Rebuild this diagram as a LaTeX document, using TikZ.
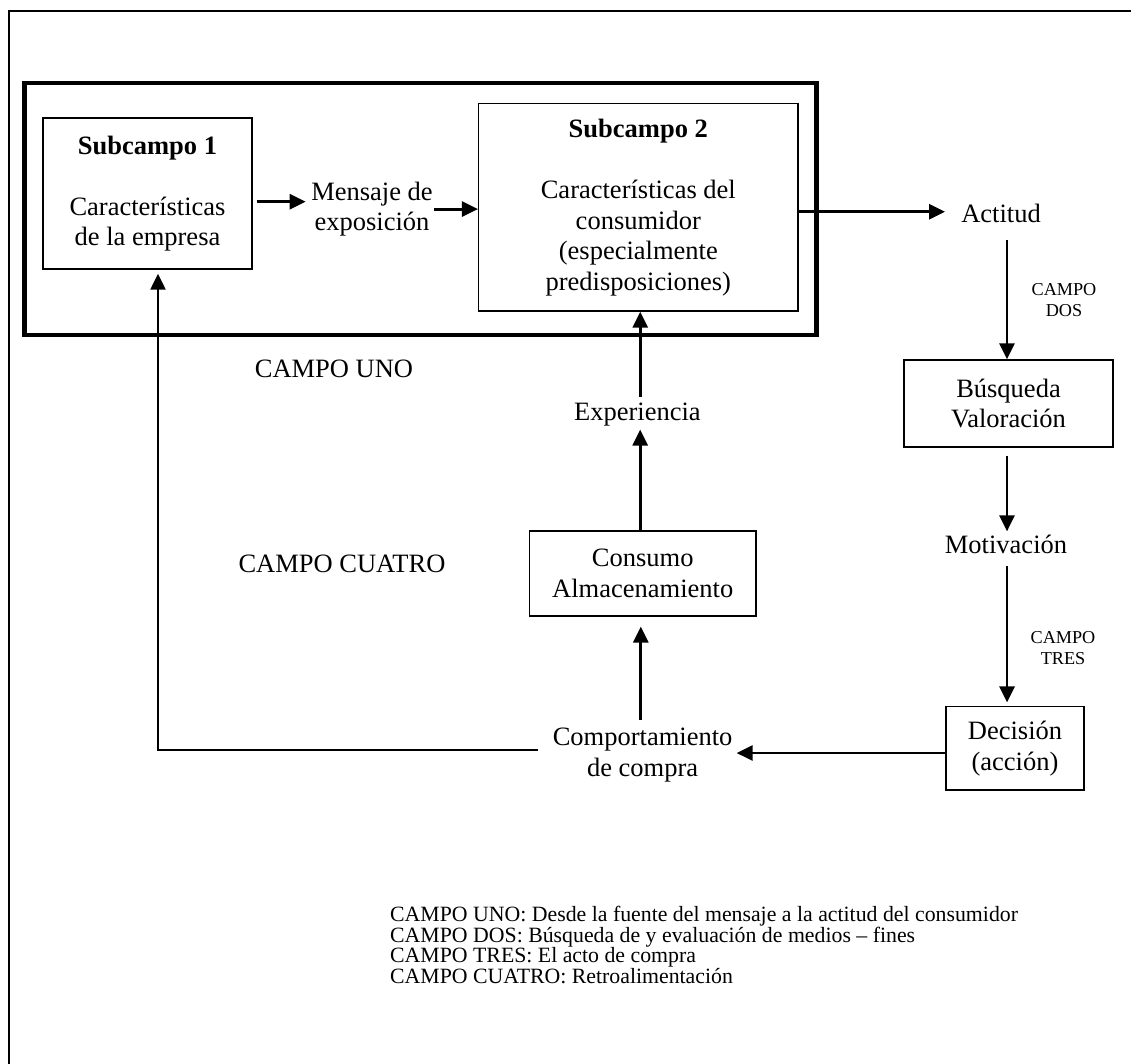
\documentclass[tikz,border=0pt]{standalone}
\usepackage{fontspec}
\setmainfont{Liberation Serif}
\usetikzlibrary{arrows.meta}

% type sizes used in the figure
\newcommand\fmain{\fontsize{26.5}{30.5}\selectfont}
\newcommand\fsmall{\fontsize{18.2}{21}\selectfont}
\newcommand\flegend{\fontsize{21.8}{20.5}\selectfont\lineskiplimit=-100pt\relax}

\begin{document}
\begin{tikzpicture}[x=1pt,y=-1pt,
  box/.style={draw, line width=1.3pt, inner sep=0pt, align=center, font=\fmain},
  lbl/.style={inner sep=0pt, align=center, font=\fmain},
  small/.style={inner sep=0pt, align=center, font=\fsmall},
  arr/.style={line width=2.8pt, -{Triangle[length=16pt,width=15pt]}},
  feed/.style={line width=2.2pt, -{Triangle[length=16pt,width=15pt]}},
]
\useasboundingbox (0,0) rectangle (1131,1063);
\fill[white] (0,0) rectangle (1131,1063);

% page frame (top and left edges)
\draw[line width=2.3pt] (9,1075) -- (9,11) -- (1145,11);

% CAMPO UNO frame
\draw[line width=4.8pt] (24.6,83) rectangle (816.7,335);

% boxes
\node[box, minimum width=209pt, minimum height=151pt] (sub1) at (147.5,193.5)
  {\textbf{Subcampo 1}\\[30.5pt]Características\\de la empresa};
\node[box, minimum width=319.4pt, minimum height=207.3pt] (sub2) at (638.3,207.4)
  {\textbf{Subcampo 2}\\[30.5pt]Características del\\consumidor\\(especialmente\\predisposiciones)};
\node[box, minimum width=209pt, minimum height=87pt] (busq) at (1008.5,403.5)
  {Búsqueda\\Valoración};
\node[box, minimum width=138pt, minimum height=83.3pt] (dec) at (1015,748.4)
  {Decisión\\(acción)};
\node[box, minimum width=226.7pt, minimum height=85pt] (cons) at (642.7,573.5)
  {Consumo\\Almacenamiento};

% free labels
\node[lbl] (msg) at (372,209.1) {Mensaje de\\exposición};
\node[lbl, anchor=base] (act) at (1001,222.7) {Actitud};
\node[small] (dos) at (1064,300.5) {CAMPO\\DOS};
\node[lbl, anchor=base] (mot) at (1006,553) {Motivación};
\node[small] (tres) at (1063,648) {CAMPO\\TRES};
\node[lbl] (comp) at (642.6,755.2) {Comportamiento\\de compra};
\node[lbl, anchor=base] (exp) at (637.4,420.7) {Experiencia};
\node[lbl, anchor=base] (uno) at (334,377) {CAMPO UNO};
\node[lbl, anchor=base] (cuatro) at (342,572) {CAMPO CUATRO};

% legend
\node[inner sep=0pt, align=left, anchor=north west, font=\flegend] (leyenda) at (390,906.2)
  {CAMPO UNO: Desde la fuente del mensaje a la actitud del consumidor\\
   CAMPO DOS: Búsqueda de y evaluación de medios – fines\\
   CAMPO TRES: El acto de compra\\
   CAMPO CUATRO: Retroalimentación};

% connectors
\draw[arr] ([shift={(4,8.2)}]sub1.east) coordinate (p1) -- ([xshift=-5.5pt]msg.west |- p1);
\draw[arr] ([xshift=1pt]msg.east) coordinate (p2) -- (sub2.west |- p2);
\draw[arr] ([shift={(0,4.3)}]sub2.east) coordinate (p3) -- ([xshift=-16pt]act.west |- p3);

\coordinate (c4) at ([xshift=-1.5pt]busq.north);
\draw[arr] ([yshift=-17pt]act.south -| c4) -- (c4);

\coordinate (m5) at ([yshift=3pt]mot.north);
\draw[arr] ([shift={(-1.5,8)}]busq.south) coordinate (p5) -- (p5 |- m5);

\coordinate (m6) at ([yshift=3.7pt]dec.north);
\draw[arr] ([shift={(1,13)}]mot.south) coordinate (p6) -- (p6 |- m6);

\draw[arr] ([shift={(0,4.6)}]dec.west) coordinate (p7) -- ([xshift=4pt]comp.east |- p7);

\coordinate (m8) at ([yshift=-10pt]cons.south);
\draw[arr] ([shift={(-1.8,-8)}]comp.north) coordinate (p8) -- (p8 |- m8);

\coordinate (m9) at ([yshift=-3pt]exp.south);
\draw[arr] ([xshift=-2.5pt]cons.north) coordinate (p9) -- (p9 |- m9);

\draw[arr] ([yshift=6pt]exp.north -| p9) -- (p9 |- sub2.south);

\draw[feed] ([shift={(-15,-5.2)}]comp.west) coordinate (p11)
  -- ([xshift=10.5pt]sub1.south |- p11) -- ([shift={(10.5,4)}]sub1.south);
\end{tikzpicture}
\end{document}
